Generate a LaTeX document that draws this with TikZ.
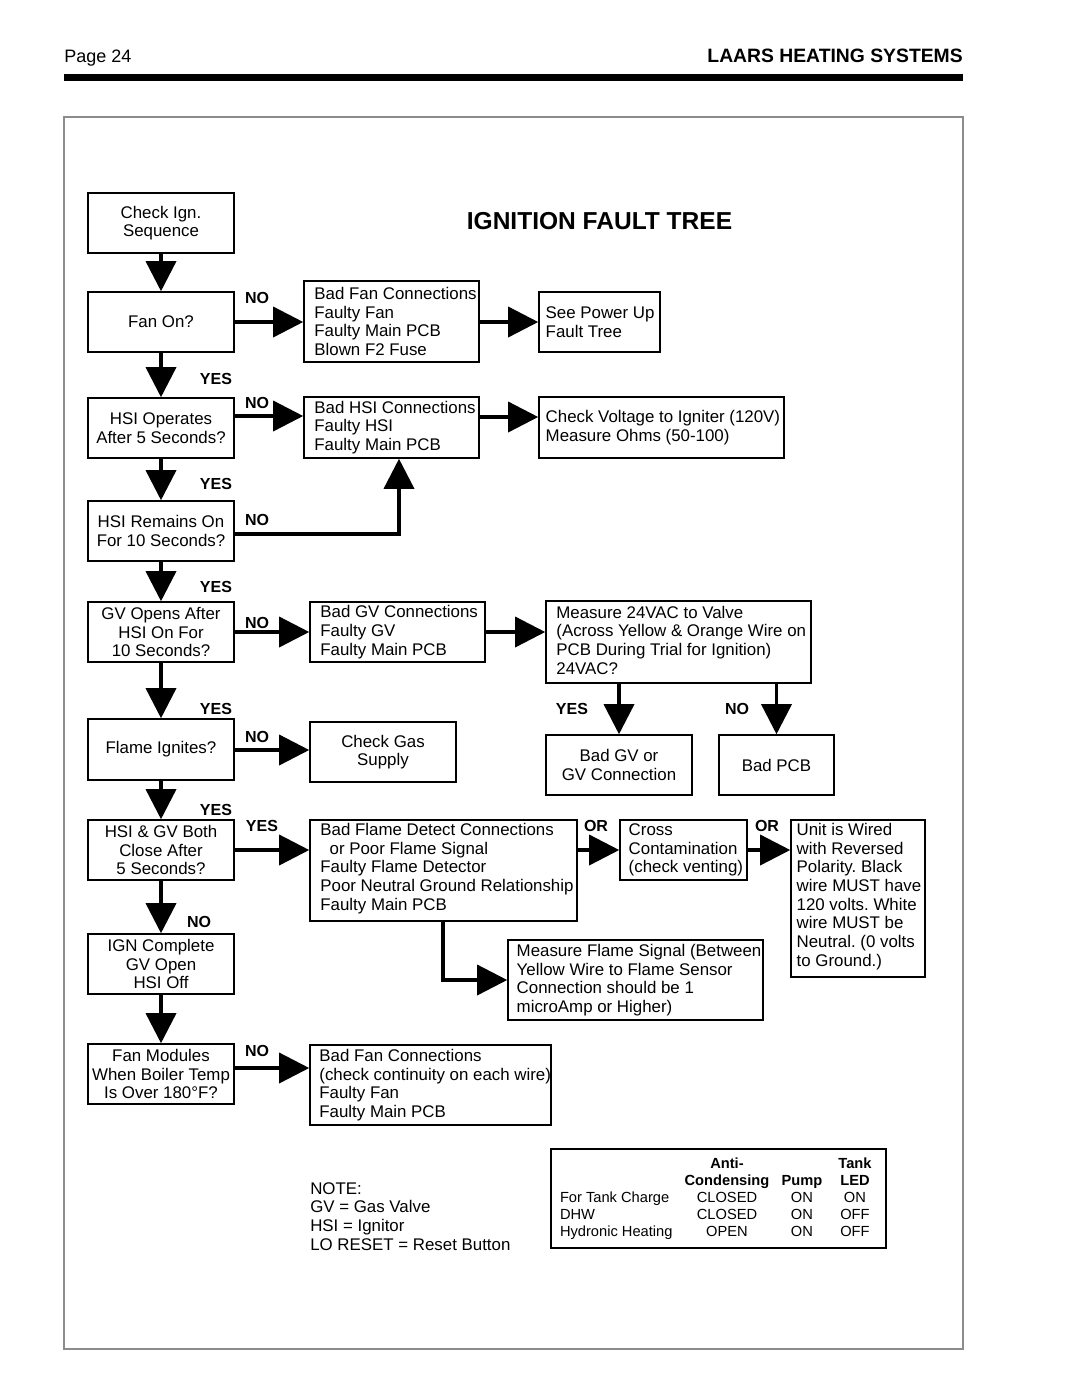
\documentclass[tikz,border=0pt]{standalone}
\usepackage{fontspec}
\setmainfont{Liberation Sans}
\usetikzlibrary{arrows.meta}
\frenchspacing
\newcommand\ta[1]{\makebox[92.25pt][l]{#1}}
\newcommand\tb[1]{\makebox[66pt][c]{#1}}
\newcommand\tc[1]{\makebox[46.5pt][c]{#1}}
\newcommand\td[1]{\makebox[33pt][c]{#1}}
\begin{document}
\begin{tikzpicture}[x=0.75pt,y=-0.75pt,
  box/.style={draw=black, line width=1.3pt, font=\fontsize{12.65}{14}\selectfont, inner sep=2pt},
  dec/.style={box, align=center, minimum width=109.5pt, minimum height=45pt},
  lst/.style={box},
  lt/.style={anchor=west, align=left, inner sep=0pt, xshift=#1, font=\fontsize{12.65}{14}\selectfont},
  lt/.default=8.25pt,
  arr/.style={line width=2.6pt, -{Triangle[width=23.25pt,length=22.5pt,line width=0pt]}},
  lab/.style={font=\fontsize{12}{14}\selectfont\bfseries, inner sep=0pt}]
\useasboundingbox (0,0) rectangle (1080,1397);
\fill[white] (0,0) rectangle (1080,1397);
% header
\node[anchor=west, inner sep=0pt, font=\fontsize{13.5}{16}\selectfont] (page) at (64,58) {Page 24};
\node[anchor=east, inner sep=0pt, font=\fontsize{14.5}{16}\selectfont\bfseries] (laars) at (963,56) {LAARS HEATING SYSTEMS};
\fill[black] (64,74) rectangle (963,81);
\draw[line width=0.9pt, draw=black!45] (64,117) rectangle (963,1349);
\node[inner sep=0pt, font=\fontsize{18.4}{20}\selectfont\bfseries] (title) at (599.5,221) {IGNITION FAULT TREE};
% boxes
\node[dec] (chk) at (161,223) {Check Ign.\\Sequence};
\node[dec] (fan) at (161,322) {Fan On?};
\node[lst, minimum width=131.25pt, minimum height=60.75pt,
  label={[lt]west:{Bad Fan Connections\\Faulty Fan\\Faulty Main PCB\\Blown F2 Fuse}}] (badfan) at (391.5,321.5) {};
\node[lst, minimum width=90.75pt, minimum height=45pt,
  label={[lt=5.5pt]west:{See Power Up\\Fault Tree}}] (seepower) at (599.5,322) {};
\node[dec] (hsiop) at (161,428) {HSI Operates\\After 5 Seconds?};
\node[lst, minimum width=131.25pt, minimum height=45.75pt,
  label={[lt]west:{Bad HSI Connections\\Faulty HSI\\Faulty Main PCB}}] (badhsi) at (391.5,427.5) {};
\node[lst, minimum width=183.75pt, minimum height=45.75pt,
  label={[lt=5.5pt]west:{Check Voltage to Igniter (120V)\\Measure Ohms (50-100)}}] (checkvolt) at (661.5,427.5) {};
\node[dec] (hsirem) at (161,531) {HSI Remains On\\For 10 Seconds?};
\node[dec] (gvopen) at (161,632) {GV Opens After\\HSI On For\\10 Seconds?};
\node[lst, minimum width=131.25pt, minimum height=45pt,
  label={[lt]west:{Bad GV Connections\\Faulty GV\\Faulty Main PCB}}] (badgv) at (397.5,632) {};
\node[lst, minimum width=198.75pt, minimum height=61.5pt,
  label={[lt,yshift=1.5pt]west:{Measure 24VAC to Valve\\(Across Yellow \& Orange Wire on\\PCB During Trial for Ignition)\\24VAC?}}] (meas24) at (678.5,642) {};
\node[dec, minimum height=45.75pt] (flame) at (161,749.5) {Flame Ignites?};
\node[dec] (checkgas) at (383,752) {Check Gas\\Supply};
\node[dec] (badgvor) at (619,765) {Bad GV or\\GV Connection};
\node[dec, minimum width=86.25pt] (badpcb) at (776.5,765) {Bad PCB};
\node[dec] (hsigv) at (161,850) {HSI \& GV Both\\Close After\\5 Seconds?};
\node[lst, minimum width=200.25pt, minimum height=75.75pt,
  label={[lt,yshift=1.5pt]west:{Bad Flame Detect Connections\\\hspace*{0.55em}or Poor Flame Signal\\Faulty Flame Detector\\Poor Neutral Ground Relationship\\Faulty Main PCB}}] (badflame) at (443.5,870.5) {};
\node[lst, minimum width=95.25pt, minimum height=45pt,
  label={[lt=7pt]west:{Cross\\Contamination\\(check venting)}}] (cross) at (683.5,850) {};
\node[lst, minimum width=100.5pt, minimum height=117.75pt,
  label={[lt=4.7pt,yshift=1.5pt]west:{Unit is Wired\\with Reversed\\Polarity. Black\\wire MUST have\\120 volts. White\\wire MUST be\\Neutral. (0 volts\\to Ground.)}}] (unit) at (858,898.5) {};
\node[lst, minimum width=191.25pt, minimum height=60pt,
  label={[lt=7pt]west:{Measure Flame Signal (Between\\Yellow Wire to Flame Sensor\\Connection should be 1\\microAmp or Higher)}}] (measflame) at (635.5,980) {};
\node[dec] (igncomp) at (161,964) {IGN Complete\\GV Open\\HSI Off};
\node[dec] (fanmod) at (161,1074) {Fan Modules\\When Boiler Temp\\Is Over 180°F?};
\node[lst, minimum width=180.75pt, minimum height=60pt,
  label={[lt=7.5pt]west:{Bad Fan Connections\\(check continuity on each wire)\\Faulty Fan\\Faulty Main PCB}}] (badfan2) at (430.5,1085) {};
% table
\node[box, inner sep=0pt, align=left, minimum width=251.25pt, minimum height=74.25pt, font=\fontsize{11}{12.75}\selectfont] (table) at (718.5,1198.5) {%
\ta{}\tb{\bfseries Anti-}\tc{}\td{\bfseries Tank}\\
\ta{}\tb{\bfseries Condensing}\tc{\bfseries Pump}\td{\bfseries LED}\\
\ta{For Tank Charge}\tb{CLOSED}\tc{ON}\td{ON}\\
\ta{DHW}\tb{CLOSED}\tc{ON}\td{OFF}\\
\ta{Hydronic Heating}\tb{OPEN}\tc{ON}\td{OFF}};
% note
\node[anchor=north west, inner sep=0pt, align=left, font=\fontsize{12.65}{14}\selectfont] (note) at (310,1182) {NOTE:\\GV = Gas Valve\\HSI = Ignitor\\LO RESET = Reset Button};
% arrows
\draw[arr] (chk.south) -- (fan.north);
\draw[arr] (fan.east) -- (fan.east -| badfan.west);
\draw[arr] (badfan.east |- seepower.west) -- (seepower.west);
\draw[arr] (fan.south) -- (hsiop.north);
\draw[arr] (hsiop.east |- 0,416) -- (badhsi.west |- 0,416);
\draw[arr] (badhsi.east |- 0,417) -- (checkvolt.west |- 0,417);
\draw[arr] (hsiop.south) -- (hsirem.north);
\draw[arr] (hsirem.east |- 0,534) -| (badhsi.south -| 399,0);
\draw[arr] (hsirem.south) -- (gvopen.north);
\draw[arr] (gvopen.east) -- (gvopen.east -| badgv.west);
\draw[arr] (badgv.east) -- (badgv.east -| meas24.west);
\draw[arr] (gvopen.south) -- (flame.north);
\draw[arr] (flame.east |- 0,750) -- (checkgas.west |- 0,750);
\draw[arr] (meas24.south -| badgvor.north) -- (badgvor.north);
\draw[arr] (meas24.south -| badpcb.north) -- (badpcb.north);
\draw[arr] (flame.south) -- (hsigv.north);
\draw[arr] (hsigv.east) -- (hsigv.east -| badflame.west);
\draw[arr] (badflame.east |- cross.west) -- (cross.west);
\draw[arr] (cross.east) -- (cross.east -| unit.west);
\draw[arr] (badflame.south -| 443,0) |- (measflame.west);
\draw[arr] (hsigv.south) -- (igncomp.north);
\draw[arr] (igncomp.south) -- (fanmod.north);
\draw[arr] (fanmod.east |- 0,1068) -- (badfan2.west |- 0,1068);
% labels
\node[lab] (l1) at (257,298) {NO};
\node[lab] (l2) at (216,379) {YES};
\node[lab] (l3) at (257,403) {NO};
\node[lab] (l4) at (216,484) {YES};
\node[lab] (l5) at (257,520) {NO};
\node[lab] (l6) at (216,587) {YES};
\node[lab] (l7) at (257,623) {NO};
\node[lab] (l8) at (216,709) {YES};
\node[lab] (l9) at (257,737) {NO};
\node[lab] (l10) at (216,810) {YES};
\node[lab] (l11) at (262,826) {YES};
\node[lab] (l12) at (199,922) {NO};
\node[lab] (l13) at (257,1051) {NO};
\node[lab] (l14) at (596,826) {OR};
\node[lab] (l15) at (767,826) {OR};
\node[lab] (l16) at (572,709) {YES};
\node[lab] (l17) at (737,709) {NO};
\end{tikzpicture}
\end{document}
